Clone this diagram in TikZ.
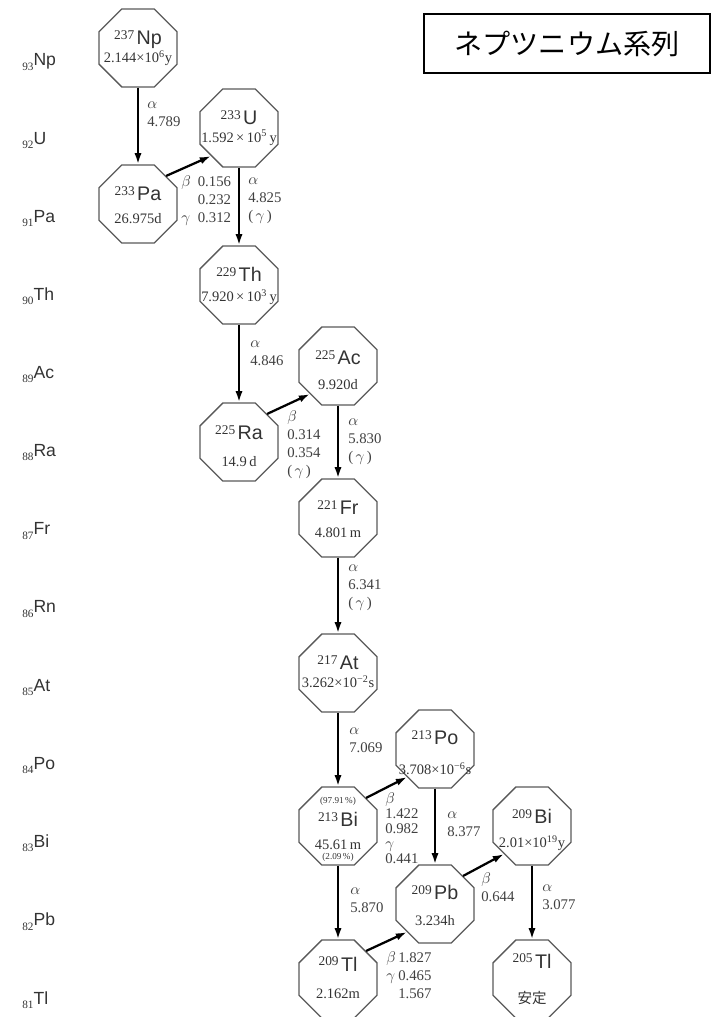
\documentclass[tikz,border=0pt]{standalone}
\usepackage{fontspec}
\setmainfont{Liberation Serif}
\setsansfont{Liberation Sans}
\newfontfamily\jpfont{Noto Sans CJK JP}
\usetikzlibrary{arrows.meta, shapes.geometric}

% one text line inside an octagon, raised by #1
\newcommand{\nline}[2]{\makebox[0pt]{\raisebox{#1}{#2}}}
\newcommand{\isot}[2]{\raisebox{4pt}{\fontsize{9.5}{9.5}\selectfont #1}\,{\sffamily\fontsize{14}{14}\selectfont #2}}
\newcommand{\nucl}[5]{\smash{\nline{#1}{\isot{#3}{#4}}\nline{#2}{#5}}}

\begin{document}
\begin{tikzpicture}[x=0.025cm, y=-0.025cm,
    iso/.style={draw=black!65, line width=0.9pt, shape=regular polygon, regular polygon sides=8,
        minimum size=2.11cm, inner sep=0pt, font=\fontsize{10.3}{12}\selectfont, text=black!80},
    decay/.style={-{Latex[length=2.8mm,width=1.8mm]}, line width=1.6pt},
    lbl/.style={inner sep=0pt, anchor=west, align=left, font=\fontsize{10.5}{12.8}\selectfont, text=black!75},
    elem/.style={inner sep=0pt, anchor=west, text=black!80}]
    \useasboundingbox (0,0) rectangle (712,1017);

    \node [draw, line width=0.8pt, minimum width=7.15cm, minimum height=1.475cm, inner sep=0pt,
        font=\jpfont\fontsize{20}{20}\selectfont] (title) at (567,43.5) {ネプツニウム系列};

    % element rows on the left
    \foreach \z/\el [count=\i from 0] in {93/Np, 92/U, 91/Pa, 90/Th, 89/Ac, 88/Ra, 87/Fr,
        86/Rn, 85/At, 84/Po, 83/Bi, 82/Pb, 81/Tl}
        \node [elem] (row\z) at (22,{62+78.15*\i})
            {\raisebox{-3pt}{\fontsize{8}{8}\selectfont\z}{\sffamily\fontsize{12.5}{12.5}\selectfont\el}};

    % nuclides
    \node [iso] (Np) at (138,48) {\nucl{2.2pt}{-10.6pt}{237}{Np}{2.144×10\textsuperscript{6}y}};
    \node [iso] (U) at (239,128) {\nucl{2.2pt}{-10pt}{233}{U}{1.592\,×\,10\textsuperscript{5}\,y}};
    \node [iso] (Pa) at (138,204) {\nucl{2.2pt}{-14.2pt}{233}{Pa}{26.975d}};
    \node [iso] (Th) at (239,285) {\nucl{2.2pt}{-12pt}{229}{Th}{7.920\,×\,10\textsuperscript{3}\,y}};
    \node [iso] (Ac) at (338,366) {\nucl{0.8pt}{-16.5pt}{225}{Ac}{9.920d}};
    \node [iso] (Ra) at (239,442) {\nucl{1.5pt}{-17.5pt}{225}{Ra}{14.9\,d}};
    \node [iso] (Fr) at (338,518) {\nucl{2.2pt}{-14.2pt}{221}{Fr}{4.801\,m}};
    \node [iso] (At) at (338,673) {\nucl{2.2pt}{-10.6pt}{217}{At}{3.262×10\textsuperscript{−2}s}};
    \node [iso] (Po) at (435,749) {\nucl{3pt}{-18pt}{213}{Po}{3.708×10\textsuperscript{−6}s}};
    \node [iso] (Bi213) at (338,826) {\smash{%
        \nline{16pt}{\fontsize{6.5}{6.5}\selectfont (97.91\,\%)}%
        \nline{-0.6pt}{\isot{213}{Bi}}%
        \nline{-16.5pt}{45.61\,m}%
        \nline{-23.6pt}{\fontsize{6.5}{6.5}\selectfont (2.09\,\%)}}};
    \node [iso] (Pb) at (435,904) {\nucl{3pt}{-15pt}{209}{Pb}{3.234h}};
    \node [iso] (Bi209) at (532,826) {\nucl{1.5pt}{-15.6pt}{209}{Bi}{2.01×10\textsuperscript{19}y}};
    \node [iso] (Tl209) at (338,979) {\nucl{5.5pt}{-14.2pt}{209}{Tl}{2.162m}};
    \node [iso] (Tl205) at (532,979) {\nucl{7.5pt}{-17.5pt}{205}{Tl}{\jpfont 安定}};

    % decays
    \draw [decay] (Np) -- (Pa);
    \draw [decay] (Pa.45) -- (U.225);
    \draw [decay] (U) -- (Th);
    \draw [decay] (Th) -- (Ra);
    \draw [decay] (Ra.45) -- (Ac.225);
    \draw [decay] (Ac) -- (Fr);
    \draw [decay] (Fr) -- (At);
    \draw [decay] (At) -- (Bi213);
    \draw [decay] (Bi213.45) -- (Po.225);
    \draw [decay] (Po) -- (Pb);
    \draw [decay] (Bi213) -- (Tl209);
    \draw [decay] (Tl209.45) -- (Pb.225);
    \draw [decay] (Pb.45) -- (Bi209.225);
    \draw [decay] (Bi209) -- (Tl205);

    % energies
    \node [lbl] (aNp) at (147,114) {$\alpha$\\4.789};
    \node [lbl] (bPa) at (181,201) {\begin{tabular}{@{}l@{\hspace{5pt}}r@{}}$\beta$ & 0.156\\ & 0.232\\ $\gamma$ & 0.312\end{tabular}};
    \node [lbl] (aU) at (248,201) {$\alpha$\\4.825\\(\,$\gamma$\,)};
    \node [lbl] (aTh) at (250,353) {$\alpha$\\4.846};
    \node [lbl] (bRa) at (287,445) {$\beta$\\0.314\\0.354\\(\,$\gamma$\,)};
    \node [lbl] (aAc) at (348,442) {$\alpha$\\5.830\\(\,$\gamma$\,)};
    \node [lbl] (aFr) at (348,588) {$\alpha$\\6.341\\(\,$\gamma$\,)};
    \node [lbl] (aAt) at (349,740) {$\alpha$\\7.069};
    \node [lbl, font=\fontsize{10.5}{10.6}\selectfont] (bBi) at (385,828) {$\beta$\\1.422\\0.982\\$\gamma$\\0.441};
    \node [lbl] (aPo) at (447,824) {$\alpha$\\8.377};
    \node [lbl] (aBi) at (350,900) {$\alpha$\\5.870};
    \node [lbl] (bTl) at (386,977) {\begin{tabular}{@{}l@{\,}l@{}}$\beta$ & 1.827\\ $\gamma$ & 0.465\\ & 1.567\end{tabular}};
    \node [lbl] (bPb) at (481,887) {$\beta$\\0.644};
    \node [lbl] (aBi2) at (542,897) {$\alpha$\\3.077};
\end{tikzpicture}
\end{document}
